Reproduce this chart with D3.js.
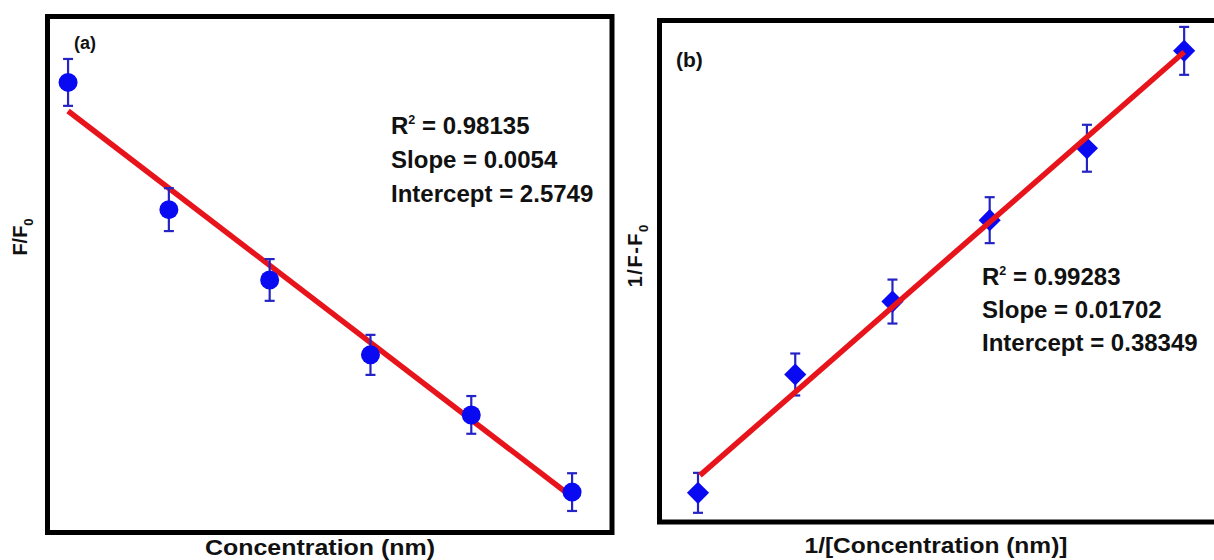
<!DOCTYPE html>
<html>
<head>
<meta charset="utf-8">
<script src="https://cdn.jsdelivr.net/npm/d3@7"></script>
<style>
  html, body { margin: 0; padding: 0; background: #fff; overflow: hidden; }
  svg { display: block; font-family: "Liberation Sans", Arial, sans-serif; font-weight: bold; }
</style>
</head>
<body>
<svg id="chart" width="1214" height="560"></svg>
<script>
// ---------- data ----------
// Panel (a): F/F0 vs concentration
const concA  = [50, 100, 150, 200, 250, 300];
const ratioA = [2.405, 1.960, 1.714, 1.452, 1.242, 0.972];
const errA   = [0.082, 0.075, 0.073, 0.070, 0.066, 0.066];
const fitAx  = [50, 300];
const fitAy  = [2.305, 0.955];
const statsA = ["0.98135", "0.0054", "2.5749"];

// Panel (b): 1/(F-F0) vs 1/[concentration]
const invConcB = [10, 20, 30, 40, 50, 60];
const invB     = [0.522, 0.759, 0.905, 1.068, 1.212, 1.407];
const errB     = [0.040, 0.042, 0.044, 0.046, 0.047, 0.048];
const fitBx    = [10.2, 60];
const fitBy    = [0.557, 1.4047];
const statsB   = ["0.99283", "0.01702", "0.38349"];

const statLabels = ["R", "Slope = ", "Intercept = "];

// ---------- drawing ----------
const svg = d3.select("#chart");
const markerBlue = "#0a0af2";
const barBlue = "#2424c4";
const red = "#e8141c";

function panel(cfg) {
  const g = svg.append("g");
  const x = d3.scaleLinear().domain(cfg.xDomain).range(cfg.xRange);
  const y = d3.scaleLinear().domain(cfg.yDomain).range(cfg.yRange);

  // frame
  g.append("rect")
    .attr("x", cfg.xRange[0]).attr("y", cfg.yRange[1])
    .attr("width", cfg.xRange[1] - cfg.xRange[0])
    .attr("height", cfg.yRange[0] - cfg.yRange[1])
    .attr("fill", "none").attr("stroke", "#000").attr("stroke-width", 5);

  const pts = cfg.xs.map((v, i) => ({x: v, y: cfg.ys[i], e: cfg.es[i]}));
  const line = d3.line().x(d => x(d[0])).y(d => y(d[1]));
  const fit = cfg.fx.map((v, i) => [v, cfg.fy[i]]);

  const drawLine = () => g.append("path").datum(fit).attr("d", line)
      .attr("stroke", red).attr("stroke-width", 5.5).attr("fill", "none");

  if (!cfg.lineOnTop) drawLine();

  // error bars
  const eb = g.append("g").attr("stroke", barBlue).attr("stroke-width", 2.2);
  pts.forEach(d => {
    eb.append("line").attr("x1", x(d.x)).attr("x2", x(d.x))
      .attr("y1", y(d.y - d.e)).attr("y2", y(d.y + d.e));
    [d.y - d.e, d.y + d.e].forEach(v => {
      eb.append("line").attr("x1", x(d.x) - 5).attr("x2", x(d.x) + 5)
        .attr("y1", y(v)).attr("y2", y(v));
    });
  });

  // markers
  if (cfg.shape === "circle") {
    g.selectAll(".m").data(pts).enter().append("circle")
      .attr("cx", d => x(d.x)).attr("cy", d => y(d.y)).attr("r", 9.5)
      .attr("fill", markerBlue);
  } else {
    const sym = d3.symbol().type(d3.symbolSquare).size(245);
    g.selectAll(".m").data(pts).enter().append("path")
      .attr("d", sym)
      .attr("transform", d => `translate(${x(d.x)},${y(d.y)}) rotate(45)`)
      .attr("fill", markerBlue);
  }

  if (cfg.lineOnTop) drawLine();

  // stats annotation
  cfg.stats.forEach((s, i) => {
    const tg = g.append("g")
      .attr("transform", `translate(${cfg.statX},${cfg.statY + i * cfg.statGap}) scale(1.045,1)`);
    const t = tg.append("text").attr("font-size", 23).attr("fill", "#111");
    if (i === 0) {
      t.append("tspan").text("R");
      t.append("tspan").attr("font-size", 12).attr("dy", -10).text("2");
      t.append("tspan").attr("dy", 10).text(" = " + s);
    } else {
      t.text(statLabels[i] + s);
    }
  });

  // panel label
  g.append("text").attr("x", cfg.labX).attr("y", cfg.labY)
    .attr("font-size", cfg.labSize).attr("fill", "#111").text(cfg.label);

  // x title
  g.append("text").attr("x", cfg.xtX).attr("y", cfg.xtY)
    .attr("text-anchor", "middle").attr("font-size", 22).attr("fill", "#111")
    .attr("textLength", cfg.xtLen).attr("lengthAdjust", "spacingAndGlyphs")
    .text(cfg.xTitle);

  // y title (rotated)
  const yt = g.append("text")
    .attr("transform", `translate(${cfg.ytX},${cfg.ytY}) rotate(-90)`)
    .attr("text-anchor", "middle").attr("font-size", 20).attr("fill", "#111");
  yt.append("tspan").attr("letter-spacing", cfg.ytSpacing).text(cfg.yTitle);
  yt.append("tspan").attr("font-size", 13).attr("dy", 6).text("0");
}

panel({
  xs: concA, ys: ratioA, es: errA, fx: fitAx, fy: fitAy,
  xDomain: [39.8, 319.8], xRange: [47.5, 612],
  yDomain: [0.8307, 2.6355], yRange: [532.5, 16.5],
  shape: "circle", lineOnTop: false,
  stats: statsA, statX: 391, statY: 134, statGap: 34,
  label: "(a)", labX: 74, labY: 49, labSize: 18,
  xTitle: "Concentration (nm)", xtX: 320, xtY: 555, xtLen: 230,
  yTitle: "F/F", ytX: 27, ytY: 237, ytSpacing: 0
});

panel({
  xs: invConcB, ys: invB, es: errB, fx: fitBx, fy: fitBy,
  xDomain: [6.04, 64.2], xRange: [659.5, 1225],
  yDomain: [0.4636, 1.4678], yRange: [522, 20.5],
  shape: "diamond", lineOnTop: true,
  stats: statsB, statX: 982, statY: 285, statGap: 33,
  label: "(b)", labX: 676, labY: 67, labSize: 21,
  xTitle: "1/[Concentration (nm)]", xtX: 936, xtY: 553, xtLen: 263,
  yTitle: "1/F-F", ytX: 642, ytY: 256, ytSpacing: 1.5
});
</script>
</body>
</html>
